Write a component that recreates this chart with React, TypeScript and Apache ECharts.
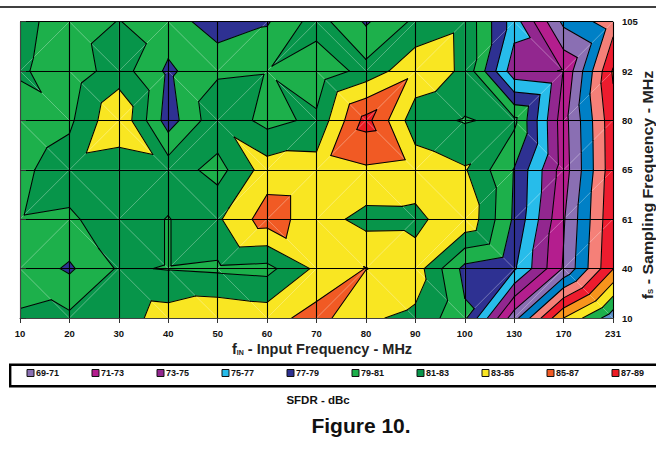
import React, { useEffect, useRef } from "react";
import * as echarts from "echarts";

const inputFrequencies = ["10", "20", "30", "40", "50", "60", "70", "80", "90", "100", "130", "170", "231"];
const samplingFrequencies = ["105", "92", "80", "65", "61", "40", "10"];

// SFDR (dBc), one row per sampling frequency, top row first
const sfdr105 = [81.5, 80.2, 81.05, 80.2, 77.7, 78.8, 81.9, 78.75, 81.4, 82.56, 76, 68.5, 66];
const sfdr92 = [81.3, 79.8, 82, 78.6, 80.7, 80.9, 79.6, 81.7, 84.5, 82.6, 73.7, 72.9, 62.8];
const sfdr80 = [79.7, 80.6, 84.77, 78, 82.5, 80.36, 81.43, 87.7, 81.75, 80.85, 81.5, 71.8, 63.6];
const sfdr65 = [80.54, 82.08, 81.5, 82.2, 80.23, 84, 83.9, 84.7, 84.3, 83.2, 78.9, 72, 63.7];
const sfdr61 = [80.9, 80.66, 82.23, 80.9, 82.7, 86, 83.9, 82.35, 82.4, 84.7, 78.7, 71.2, 63.4];
const sfdr40 = [80.28, 78.7, 81.23, 80.9, 80.65, 80.4, 83.4, 85.05, 84, 78.4, 77.3, 70.8, 63.1];
const sfdr10 = [81.17, 81.42, 82, 83.94, 84.7, 84.2, 85.8, 83.25, 82.6, 79.4, 69.8, 61, 55.8];
const sfdrRows = [sfdr105, sfdr92, sfdr80, sfdr65, sfdr61, sfdr40, sfdr10];

// How each cell of the surface is split in two: R = rising diagonal, F = falling diagonal
const cellSplits = [
  "RFRFRRFRRRFR",
  "FFRFRFFRFFRR",
  "FRFRFRRFRRFR",
  "RFRFRRRFFRRR",
  "RFFRRFFRRFRR",
  "FRFFFRRFFRRF",
];

const bandFloor = [55, 57, 59, 61, 63, 65, 67, 69, 71, 73, 75, 77, 79, 81, 83, 85, 87];
const bandColors = ["#5B8FC8", "#1DB04B", "#F9E622", "#F7941D", "#ED1C2E", "#F58078", "#0080C6", "#8A6FB3", "#B41E8E", "#92278F", "#27BCEA", "#2E3192", "#1DB04B", "#07954A", "#F9E622", "#F15A24", "#ED1C24"];
const legendLabels = ["69-71", "71-73", "73-75", "75-77", "77-79", "79-81", "81-83", "83-85", "85-87", "87-89"];
const legendColors = ["#8A6FB3", "#B41E8E", "#92278F", "#27BCEA", "#2E3192", "#1DB04B", "#07954A", "#F9E622", "#F15A24", "#ED1C24"];

type V = [number, number, number];

const vertex = (c: number, r: number): V => [c, samplingFrequencies.length - 1 - r, sfdrRows[r][c]];

function triangles(): V[][] {
  const out: V[][] = [];
  cellSplits.forEach((row, r) => {
    row.split("").forEach((split, c) => {
      const tl = vertex(c, r), tr = vertex(c + 1, r), bl = vertex(c, r + 1), br = vertex(c + 1, r + 1);
      if (split === "R") out.push([tl, tr, bl], [tr, br, bl]);
      else out.push([tl, tr, br], [tl, br, bl]);
    });
  });
  return out;
}

const cross = (a: V, b: V, level: number): V => {
  const t = (level - a[2]) / (b[2] - a[2]);
  return [a[0] + (b[0] - a[0]) * t, a[1] + (b[1] - a[1]) * t, level];
};

function clip(poly: V[], level: number, keepAbove: boolean): V[] {
  const inside = (p: V) => (keepAbove ? p[2] >= level : p[2] <= level);
  const out: V[] = [];
  poly.forEach((p, i) => {
    const q = poly[(i + 1) % poly.length];
    if (inside(p)) out.push(p);
    if (inside(p) !== inside(q)) out.push(cross(p, q, level));
  });
  return out;
}

const fills: { band: number; pts: V[] }[] = [];
const contours: V[][] = [];
const tris = triangles();
tris.forEach((t) => {
  bandFloor.forEach((lo, band) => {
    const pts = clip(clip(t, lo, true), lo + 2, false);
    if (pts.length >= 3) fills.push({ band, pts });
    const seg: V[] = [];
    t.forEach((p, i) => {
      const q = t[(i + 1) % 3];
      if (p[2] >= lo !== q[2] >= lo) seg.push(cross(p, q, lo));
    });
    if (seg.length === 2) contours.push(seg);
  });
});
const splitLines: V[][] = [];
cellSplits.forEach((row, r) => {
  row.split("").forEach((split, c) => {
    splitLines.push(split === "R" ? [vertex(c + 1, r), vertex(c, r + 1)] : [vertex(c, r), vertex(c + 1, r + 1)]);
  });
});

const FONT = "Liberation Sans";

function App() {
  const ref = useRef<HTMLDivElement>(null);
  useEffect(() => {
    document.body.style.margin = "0";
    const chart = echarts.init(ref.current!, undefined, { renderer: "svg" });
    const legendGraphics: any[] = [];
    legendLabels.forEach((label, i) => {
      const x = 27 + i * 65;
      legendGraphics.push({ type: "rect", shape: { x, y: 369.5, width: 7, height: 7 }, style: { fill: legendColors[i], stroke: "#111", lineWidth: 1 } });
      legendGraphics.push({ type: "text", x: x + 9, y: 373.2, style: { text: label, font: `bold 9px "${FONT}"`, fill: "#111", verticalAlign: "middle" } });
    });
    const poly = (pts: V[], api: any) => pts.map((p) => api.coord([p[0], p[1]]));
    chart.setOption({
      animation: false,
      grid: { left: 20, right: 43, top: 21.7, bottom: 134 },
      xAxis: {
        type: "value", min: 0, max: 12, interval: 1, z: 5,
        axisLine: { show: true, lineStyle: { color: "#444", width: 1 } },
        axisTick: { show: true, length: 5, lineStyle: { color: "#333", width: 1 } },
        axisLabel: { formatter: (v: number) => inputFrequencies[v], color: "#111", fontFamily: FONT, fontWeight: "bold", fontSize: 9.5, margin: 10 },
        splitLine: { show: true, lineStyle: { color: "#000", width: 1.1 } },
      },
      yAxis: {
        type: "value", min: 0, max: 6, interval: 1, position: "right", z: 5,
        axisLine: { show: true, lineStyle: { color: "#444", width: 1 } },
        axisTick: { show: true, length: 6, lineStyle: { color: "#333", width: 1 } },
        axisLabel: { formatter: (v: number) => samplingFrequencies[samplingFrequencies.length - 1 - v], color: "#111", fontFamily: FONT, fontWeight: "bold", fontSize: 9.5, margin: 9 },
        splitLine: { show: true, lineStyle: { color: "#000", width: 1.1 } },
      },
      series: [
        {
          type: "custom", silent: true, z: 2, clip: true,
          data: fills.map((f) => [f.pts[0][0], f.pts[0][1], f.band]),
          renderItem: (p: any, api: any) => {
            const f = fills[p.dataIndex];
            const color = bandColors[f.band];
            return { type: "polygon", shape: { points: poly(f.pts, api) }, style: { fill: color, stroke: color, lineWidth: 0.4 } };
          },
        },
        {
          type: "custom", silent: true, z: 3, clip: true,
          data: splitLines.map((s) => [s[0][0], s[0][1]]),
          renderItem: (p: any, api: any) => {
            const s = splitLines[p.dataIndex];
            return { type: "polyline", shape: { points: poly(s, api) }, style: { fill: "none", stroke: "rgba(255,255,255,0.3)", lineWidth: 0.8 } };
          },
        },
        {
          type: "custom", silent: true, z: 4, clip: true,
          data: contours.map((s) => [s[0][0], s[0][1]]),
          renderItem: (p: any, api: any) => {
            const s = contours[p.dataIndex];
            return { type: "polyline", shape: { points: poly(s, api) }, style: { fill: "none", stroke: "#000", lineWidth: 1.05, lineCap: "round" } };
          },
        },
      ],
      graphic: [
        { type: "line", shape: { x1: 0, y1: 7, x2: 656, y2: 7 }, style: { stroke: "#000", lineWidth: 1.6 } },
        { type: "rect", shape: { x: 10.2, y: 364.7, width: 660, height: 21.6 }, style: { fill: "none", stroke: "#000", lineWidth: 2.4 } },
        ...legendGraphics,
        {
          type: "text", x: 322, y: 349,
          style: {
            text: "{a|f}{b|IN}{a| - Input Frequency - MHz}",
            align: "center", verticalAlign: "middle",
            rich: {
              a: { font: `bold 14.5px "${FONT}"`, fill: "#222" },
              b: { font: `bold 7px "${FONT}"`, fill: "#222", padding: [6, 0, 0, 0] },
            },
          },
        },
        {
          type: "text", x: 648, y: 185, rotation: Math.PI / 2, scaleX: 1.1,
          style: {
            text: "{a|f}{b|S}{a| - Sampling Frequency - MHz}",
            align: "center", verticalAlign: "middle",
            rich: {
              a: { font: `bold 14.5px "${FONT}"`, fill: "#222" },
              b: { font: `bold 7px "${FONT}"`, fill: "#222", padding: [6, 0, 0, 0] },
            },
          },
        },
        { type: "text", x: 318, y: 400, style: { text: "SFDR - dBc", align: "center", verticalAlign: "middle", font: `bold 11.5px "${FONT}"`, fill: "#111" } },
        { type: "text", x: 361, y: 425, style: { text: "Figure 10.", align: "center", verticalAlign: "middle", font: `bold 21px "${FONT}"`, fill: "#111" } },
      ],
    });
    return () => chart.dispose();
  }, []);
  return <div ref={ref} style={{ width: 656, height: 452 }} />;
}

export default App;
